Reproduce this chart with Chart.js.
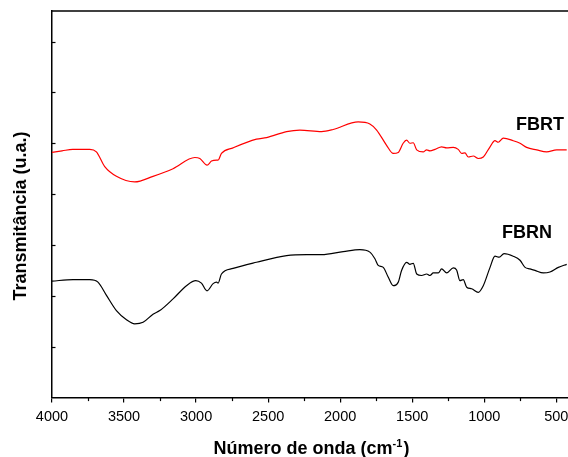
<!DOCTYPE html>
<html><head><meta charset="utf-8">
<script src="https://cdn.jsdelivr.net/npm/chart.js@4.4.0/dist/chart.umd.min.js"></script>
<style>html,body{margin:0;padding:0;background:#fff;}#wrap{width:568px;height:457px;position:relative;}</style>
</head><body><div id="wrap"><canvas id="c" width="568" height="457"></canvas></div>
<script>
const fbrtWavenumbers = [4000,3930,3856,3738,3692,3634,3553,3426,3299,3160,3009,2974,2924,2893,2858,2847,2824,2743,2581,2511,2372,2280,2129,2049,1875,1794,1747,1678,1632,1597,1563,1539,1516,1493,1469,1424,1400,1377,1342,1296,1261,1215,1181,1157,1134,1111,1076,1042,1007,960,926,903,868,799,752,706,636,567,497,428];
const fbrtValues = [4.82,4.85,4.88,4.88,4.83,4.54,4.35,4.24,4.35,4.50,4.72,4.70,4.57,4.65,4.67,4.67,4.80,4.91,5.08,5.11,5.23,5.26,5.23,5.27,5.42,5.38,5.26,4.96,4.80,4.82,5.00,5.06,5.00,5.01,4.87,4.83,4.87,4.85,4.88,4.93,4.91,4.92,4.88,4.80,4.81,4.73,4.75,4.70,4.73,4.93,5.05,5.02,5.10,5.05,5.00,4.92,4.87,4.83,4.87,4.87];
const fbrnWavenumbers = [4000,3854,3738,3681,3622,3553,3483,3426,3368,3299,3252,3160,3067,3002,2963,2924,2882,2858,2847,2824,2743,2581,2372,2233,2129,1979,1863,1794,1759,1736,1701,1667,1632,1597,1574,1539,1516,1493,1469,1435,1400,1377,1354,1319,1296,1261,1215,1192,1169,1146,1122,1088,1042,1007,960,926,896,863,799,752,717,683,648,590,544,486,428];
const fbrnValues = [2.29,2.32,2.32,2.27,2.01,1.71,1.53,1.45,1.48,1.64,1.71,1.94,2.20,2.30,2.25,2.10,2.24,2.27,2.25,2.43,2.54,2.66,2.79,2.81,2.81,2.87,2.91,2.86,2.73,2.60,2.56,2.37,2.20,2.27,2.50,2.66,2.62,2.64,2.43,2.40,2.43,2.40,2.45,2.45,2.53,2.45,2.55,2.51,2.30,2.32,2.17,2.14,2.07,2.20,2.56,2.78,2.76,2.83,2.78,2.70,2.56,2.53,2.50,2.45,2.47,2.56,2.62];
const seriesNames = ['FBRT','FBRN'];
const seriesColors = ['#ff0000','#000000'];
const xTickValues = [4000,3500,3000,2500,2000,1500,1000,500];
const xMinorTickValues = [3750,3250,2750,2250,1750,1250,750];
const yTickValues = [1,2,3,4,5,6,7];
const xRange = [419,4000];
const yRange = [0,7.6];
const labelAnchors = [[613,5.36],[703,3.23]];
const xTitleMain = 'Número de onda (cm';
const xTitleSup = '-1';
const xTitleEnd = ')';
const yTitle = 'Transmitância (u.a.)';

const FONT = '"Liberation Sans", Arial, sans-serif';

const toPoints = (xs, ys) => xs.map((x, i) => ({x: x, y: ys[i]}));

const decor = {
  id: 'decor',
  afterDraw(chart) {
    const ctx = chart.ctx, a = chart.chartArea;
    const xs = chart.scales.x, ys = chart.scales.y;
    ctx.save();
    ctx.strokeStyle = '#000';
    ctx.lineWidth = 1.5;
    ctx.beginPath(); ctx.moveTo(a.left, a.top); ctx.lineTo(a.right, a.top); ctx.stroke();
    ctx.lineWidth = 1.2;
    xMinorTickValues.forEach(v => {
      const px = Math.round(xs.getPixelForValue(v)) + 0.5;
      ctx.beginPath(); ctx.moveTo(px, a.bottom); ctx.lineTo(px, a.bottom + 3.5); ctx.stroke();
    });
    yTickValues.forEach(v => {
      const py = Math.round(ys.getPixelForValue(v)) + 0.5;
      ctx.beginPath(); ctx.moveTo(a.left, py); ctx.lineTo(a.left + 3.5, py); ctx.stroke();
    });
    ctx.fillStyle = '#000';
    ctx.font = 'bold 18px ' + FONT;
    ctx.textAlign = 'center'; ctx.textBaseline = 'middle';
    seriesNames.forEach((n, i) => {
      ctx.fillText(n, xs.getPixelForValue(labelAnchors[i][0]), ys.getPixelForValue(labelAnchors[i][1]));
    });
    ctx.textAlign = 'left'; ctx.textBaseline = 'alphabetic';
    ctx.font = 'bold 18px ' + FONT;
    const w1 = ctx.measureText(xTitleMain).width;
    const w3 = ctx.measureText(xTitleEnd).width;
    ctx.font = 'bold 11px ' + FONT;
    const w2 = ctx.measureText(xTitleSup).width;
    const total = w1 + w2 + w3 + 1;
    let x0 = 311.5 - total / 2;
    const base = 454;
    ctx.font = 'bold 18px ' + FONT;
    ctx.fillText(xTitleMain, x0, base);
    ctx.font = 'bold 11px ' + FONT;
    ctx.fillText(xTitleSup, x0 + w1, base - 7);
    ctx.font = 'bold 18px ' + FONT;
    ctx.fillText(xTitleEnd, x0 + w1 + w2 + 1, base);
    ctx.translate(25.5, 216);
    ctx.rotate(-Math.PI / 2);
    ctx.textAlign = 'center';
    ctx.fillText(yTitle, 0, 0);
    ctx.restore();
  }
};

new Chart(document.getElementById('c'), {
  type: 'line',
  data: {
    datasets: [
      {label: seriesNames[0], data: toPoints(fbrtWavenumbers, fbrtValues), borderColor: seriesColors[0]},
      {label: seriesNames[1], data: toPoints(fbrnWavenumbers, fbrnValues), borderColor: seriesColors[1]}
    ]
  },
  options: {
    responsive: false,
    devicePixelRatio: 1,
    animation: false,
    layout: {padding: {left: 52, top: 11, right: 0, bottom: 25}},
    elements: {
      line: {borderWidth: 1.2, cubicInterpolationMode: 'monotone', fill: false},
      point: {radius: 0, hoverRadius: 0}
    },
    plugins: {legend: {display: false}, tooltip: {enabled: false}},
    scales: {
      x: {
        type: 'linear', reverse: true, min: xRange[0], max: xRange[1],
        afterBuildTicks: s => { s.ticks = xTickValues.map(v => ({value: v})); },
        afterFit: s => { s.paddingLeft = 0; s.paddingRight = 0; },
        ticks: {callback: v => String(v), color: '#000', font: {family: FONT, size: 14.5}, padding: 6, maxRotation: 0, autoSkip: false},
        grid: {display: true, drawOnChartArea: false, drawTicks: true, tickLength: 5, color: '#000', lineWidth: 1.2},
        border: {display: true, color: '#000', width: 1.5}
      },
      y: {
        min: yRange[0], max: yRange[1],
        ticks: {display: false},
        grid: {display: false, drawTicks: false},
        border: {display: true, color: '#000', width: 1.5}
      }
    }
  },
  plugins: [decor]
});
</script></body></html>
